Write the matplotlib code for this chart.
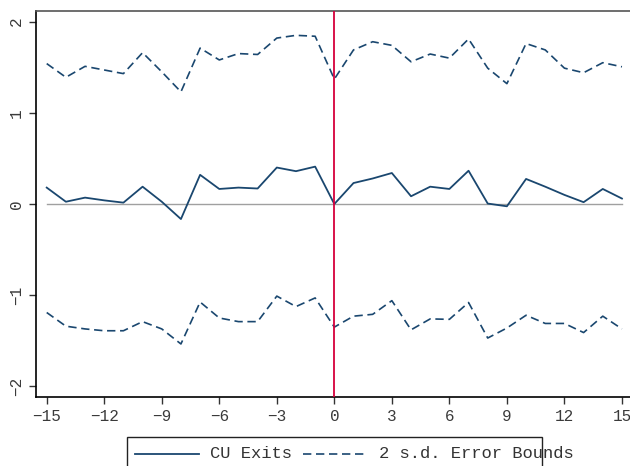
import matplotlib
matplotlib.use('Agg')
import matplotlib.pyplot as plt
from matplotlib.lines import Line2D
from matplotlib.patches import Rectangle

# event time
periods = list(range(-15, 16))

cu_exits = [0.18, 0.025, 0.07, 0.04, 0.015, 0.19, 0.025, -0.165, 0.32, 0.165,
            0.18, 0.17, 0.40, 0.36, 0.41, 0.0, 0.23, 0.28, 0.34, 0.085,
            0.19, 0.165, 0.365, 0.005, -0.025, 0.275, 0.19, 0.10, 0.02, 0.165, 0.06]

upper_bound = [1.54, 1.39, 1.51, 1.47, 1.43, 1.66, 1.45, 1.23, 1.71, 1.58,
               1.65, 1.64, 1.82, 1.85, 1.84, 1.37, 1.69, 1.78, 1.74, 1.56,
               1.645, 1.60, 1.81, 1.49, 1.32, 1.76, 1.69, 1.49, 1.44, 1.55, 1.505]

lower_bound = [-1.19, -1.34, -1.37, -1.39, -1.39, -1.29, -1.37, -1.535, -1.075, -1.25,
               -1.29, -1.29, -1.01, -1.125, -1.03, -1.35, -1.23, -1.21, -1.06, -1.38,
               -1.26, -1.265, -1.08, -1.47, -1.36, -1.22, -1.31, -1.31, -1.41, -1.23, -1.37]

xticks = list(range(-15, 16, 3))
yticks = [-2, -1, 0, 1, 2]
legend_labels = ['CU Exits', '2 s.d. Error Bounds']

navy = '#1a476f'
mono = 'Liberation Mono'
W, H = 630, 466

fig = plt.figure(figsize=(6.3, 4.66), dpi=100)
ax = fig.add_axes([0.0571, 0.148, 0.9429, 0.829])

ax.axhline(0, xmin=(-15 + 15.56) / 30.98, xmax=(15 + 15.56) / 30.98, color='#a0a0a0', lw=1.0, zorder=1)
ax.axvline(0, color='#d6003c', lw=1.3, zorder=3)

ax.plot(periods, cu_exits, color=navy, lw=1.3, zorder=2)
ax.plot(periods, upper_bound, color=navy, lw=1.2, dashes=(5, 2.8), zorder=2)
ax.plot(periods, lower_bound, color=navy, lw=1.2, dashes=(5, 2.8), zorder=2)

ax.set_xlim(-15.56, 15.42)
ax.set_ylim(-2.117, 2.12)
ax.set_xticks(xticks)
ax.set_xticklabels([str(t).replace('-', '\u2212') for t in xticks], fontfamily=mono, fontsize=11.5, color='#3a3a3a')
ax.set_yticks(yticks)
ax.set_yticklabels([str(t).replace('-', '\u2212') for t in yticks], fontfamily=mono, fontsize=11.5,
                   color='#3a3a3a', rotation=90, va='center')
ax.tick_params(axis='both', direction='out', length=5, width=1.0, color='#333333')

ax.spines['right'].set_visible(False)
ax.spines['top'].set_color('#555555')
ax.spines['left'].set_color('black')
ax.spines['bottom'].set_color('black')
for s in ax.spines.values():
    s.set_linewidth(1.2)

# legend box, Stata style (text runs past the frame, box cut at the bottom)
fig.add_artist(Rectangle((127 / W, -0.05), (542 - 127) / W, 0.05 + 1 - 437 / H,
                         transform=fig.transFigure, fill=False, edgecolor='#222222', lw=1.0))
ly = 1 - 454 / H
fig.add_artist(Line2D([135 / W, 199 / W], [ly, ly], transform=fig.transFigure, color=navy, lw=1.3))
fig.add_artist(Line2D([303 / W, 368 / W], [ly, ly], transform=fig.transFigure, color=navy, lw=1.2,
                      dashes=(5, 2.8)))
fig.text(210 / W, ly, legend_labels[0], family=mono, fontsize=12.3, color='#333333', va='center')
fig.text(379 / W, ly, legend_labels[1], family=mono, fontsize=12.3, color='#333333', va='center')

fig.savefig('out.png', dpi=100)
